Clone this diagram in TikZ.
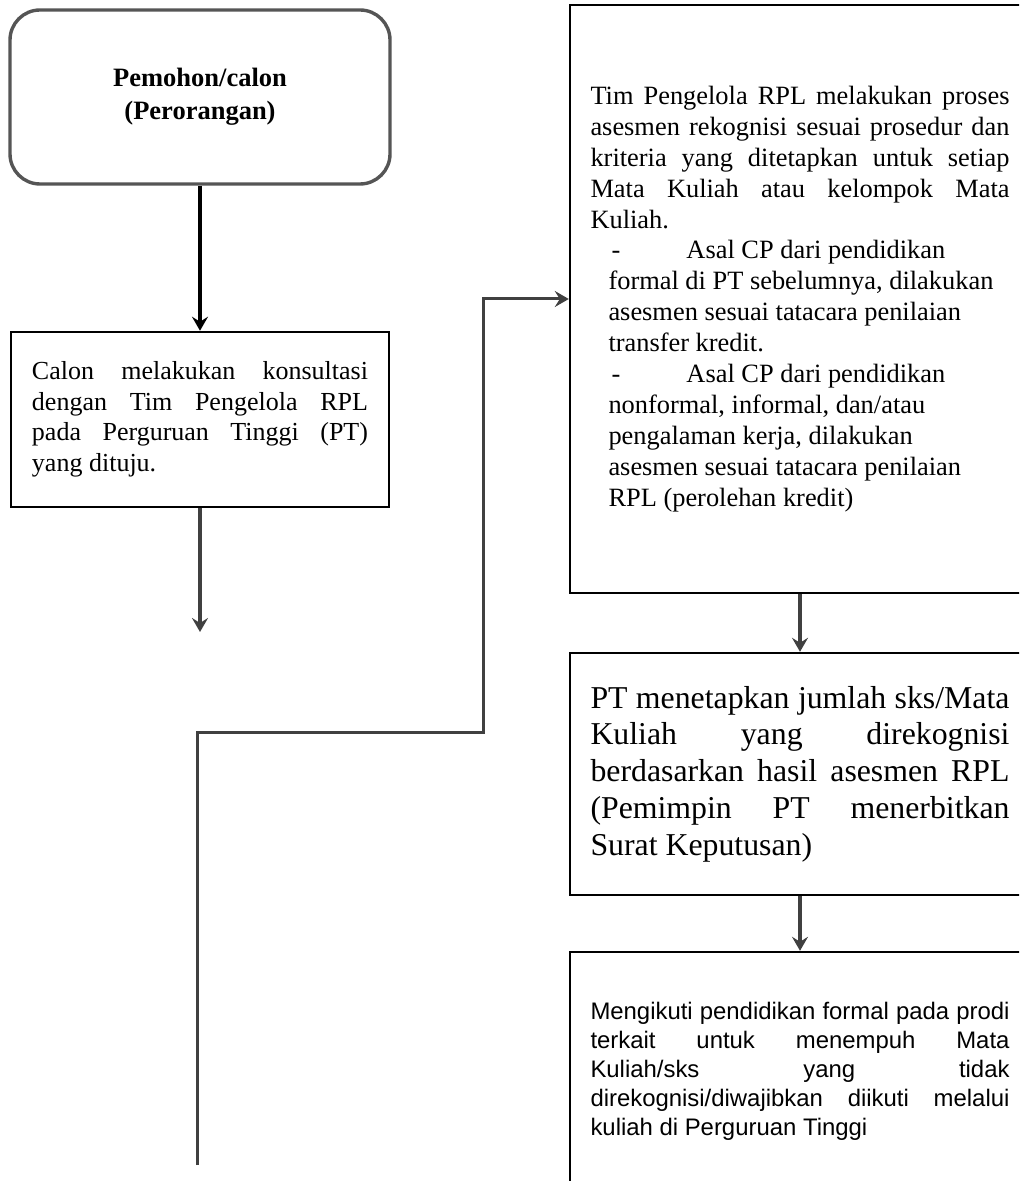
\documentclass[tikz,border=0pt]{standalone}
\usepackage{fontspec}
\setmainfont{Liberation Serif}
\setsansfont{Liberation Sans}
\usetikzlibrary{arrows.meta}
\definecolor{linegray}{HTML}{404040}
\definecolor{boxgray}{HTML}{555555}
\tikzset{
block/.style = {draw, line width=1.25pt, align=justify, inner xsep=10.5pt,
                inner ysep=0pt, text width=168pt, minimum height=87.5pt},
wblock/.style = {block, line width=1.2pt, inner xsep=10.25pt, text width=209.5pt},
rblock/.style = {draw=boxgray, line width=1.7pt, rounded corners=15pt,
                 minimum width=190pt, minimum height=87pt, align=center},
input/.style = {coordinate},
flow/.style = {draw=linegray, line width=1.7pt,
               -{Stealth[length=7pt,width=8pt,inset=2.5pt]}}
}

\begin{document}
\begin{tikzpicture}[x=0.5pt, y=-0.5pt]
    \useasboundingbox (0,0) rectangle (1019,1181);
    \clip (0,0) rectangle (1019,1181);

    % left column
    \node [rblock, font=\bfseries\fontsize{13.25}{16.5}\selectfont] (pemohon) at (200,97)
    {Pemohon/calon\\(Perorangan)};
    \node [block, below of=pemohon, node distance=161.25pt,
           font=\fontsize{13}{15.25}\selectfont] (konsul)
    {Calon melakukan konsultasi\linebreak dengan Tim Pengelola RPL\linebreak
     pada Perguruan Tinggi (PT)\linebreak yang dituju.};
    \node [input, name=konsulout] at (200,632) {};

    \draw [flow, draw=black, line width=1.9pt] (pemohon) -- (konsul);
    \draw [flow] (konsul.south) -- (konsulout);

    % right column
    \node [wblock, minimum height=294pt, font=\fontsize{13.2}{15.45}\selectfont]
    (asesmen) at (800,299)
    {Tim Pengelola RPL melakukan proses\linebreak asesmen rekognisi sesuai prosedur dan\linebreak
     kriteria yang ditetapkan untuk setiap\linebreak Mata Kuliah atau kelompok Mata\linebreak
     Kuliah.\par
     {\raggedright\leftskip=9pt
     \hspace*{1.5pt}\makebox[37.5pt][l]{-}Asal CP dari pendidikan\newline
     formal di PT sebelumnya, dilakukan\newline
     asesmen sesuai tatacara penilaian\newline
     transfer kredit.\par
     \hspace*{1.5pt}\makebox[37.5pt][l]{-}Asal CP dari pendidikan\newline
     nonformal, informal, dan/atau\newline
     pengalaman kerja, dilakukan\newline
     asesmen sesuai tatacara penilaian\newline
     RPL (perolehan kredit)\par}};
    \node [wblock, below of=asesmen, node distance=237.5pt, minimum height=121pt,
           font=\fontsize{15.9}{18.4}\selectfont] (sks)
    {PT menetapkan jumlah sks/Mata\linebreak Kuliah yang direkognisi\linebreak
     berdasarkan hasil asesmen RPL\linebreak (Pemimpin PT menerbitkan\linebreak
     Surat Keputusan)};
    \node [wblock, below of=sks, node distance=148.5pt, minimum height=119pt,
           font=\sffamily\fontsize{11.95}{14.5}\selectfont] (kuliah)
    {Mengikuti pendidikan formal pada prodi\linebreak terkait untuk menempuh Mata\linebreak
     Kuliah/sks yang tidak\linebreak direkognisi/diwajibkan diikuti melalui\linebreak
     kuliah di Perguruan Tinggi};

    \draw [flow] (asesmen) -- (sks);
    \draw [flow] (sks) -- (kuliah);

    % return line into the assessment box
    \node [input, name=lowend] at (197,1165) {};
    \node [input, name=bend] at (483,732) {};
    \draw [flow, line width=1.5pt] (lowend) |- (bend) |- (asesmen.west);

\end{tikzpicture}
\end{document}
